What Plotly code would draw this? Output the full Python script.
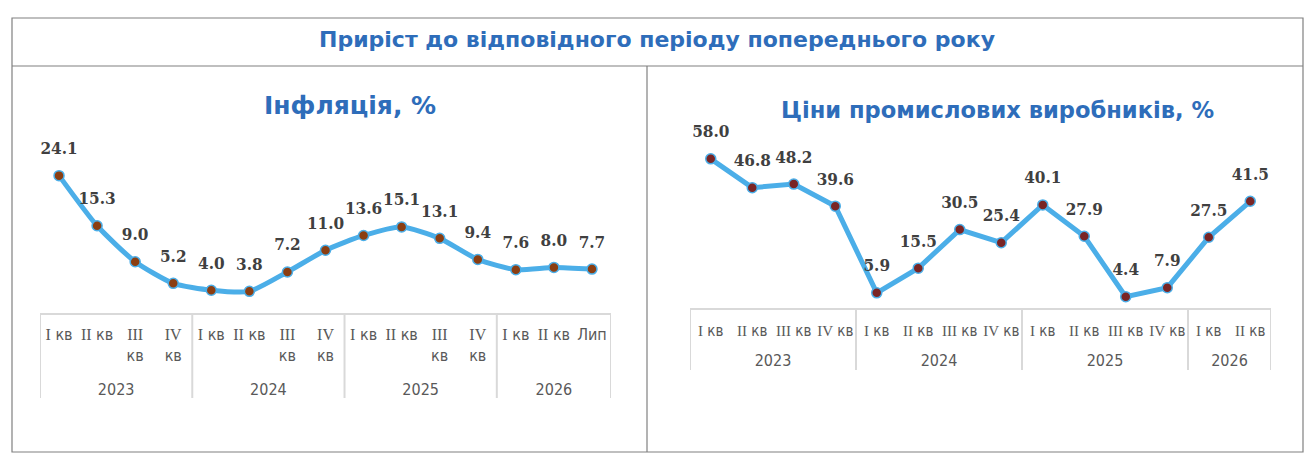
import plotly.graph_objects as go

W, H = 1314, 466

# ---- data ----
infl_years = ["2023"] * 4 + ["2024"] * 4 + ["2025"] * 4 + ["2026"] * 3
infl_quarters = ["I кв", "II кв", "III кв", "IV кв",
                 "I кв", "II кв", "III кв", "IV кв",
                 "I кв", "II кв", "III кв", "IV кв",
                 "I кв", "II кв", "Лип"]
infl_values = [24.1, 15.3, 9.0, 5.2, 4.0, 3.8, 7.2, 11.0, 13.6, 15.1, 13.1, 9.4, 7.6, 8.0, 7.7]

ppi_years = ["2023"] * 4 + ["2024"] * 4 + ["2025"] * 4 + ["2026"] * 2
ppi_quarters = ["I кв", "II кв", "III кв", "IV кв",
                "I кв", "II кв", "III кв", "IV кв",
                "I кв", "II кв", "III кв", "IV кв",
                "I кв", "II кв"]
ppi_values = [58.0, 46.8, 48.2, 39.6, 5.9, 15.5, 30.5, 25.4, 40.1, 27.9, 4.4, 7.9, 27.5, 41.5]

header_title = "Приріст до відповідного періоду попереднього року"
left_title = "Інфляція, %"
right_title = "Ціни промислових виробників, %"

# ---- styles ----
LINE = "#4BAEE8"
BLUE_T = "#2E6DBA"
FRAME = "#808080"
GRID = "#D9D9D9"
LBL = "#404040"
TICK = "#595959"
SERIF_NUM = "Liberation Serif, serif"
SANS_TICK = "DejaVu Sans Condensed, DejaVu Sans, sans-serif"


def fmt_quarter(q, wrap):
    """Roman numeral in a serif face, 'кв' in the sans face; optionally wrap III / IV."""
    parts = q.split(" ")
    if len(parts) == 2:
        num, suf = parts
        sep = "<br>" if (wrap and num in ("III", "IV")) else " "
        return f"<span style='font-family:{SERIF_NUM}'>{num}</span>{sep}{suf}"
    return q


def groups(years):
    n = len(years)
    bounds = [-0.5] + [i - 0.5 for i in range(1, n) if years[i] != years[i - 1]] + [n - 0.5]
    names, centers = [], []
    for a, b in zip(bounds[:-1], bounds[1:]):
        names.append(years[int(a + 0.5)])
        centers.append((a + b) / 2)
    return bounds, names, centers


def px(x):
    return x / W


def py(y):
    return 1 - y / H


infl_x = list(range(len(infl_values)))
ppi_x = list(range(len(ppi_values)))
infl_labels = [fmt_quarter(q, True) for q in infl_quarters]
ppi_labels = [fmt_quarter(q, False) for q in ppi_quarters]
infl_bounds, infl_gnames, infl_gcenters = groups(infl_years)
ppi_bounds, ppi_gnames, ppi_gcenters = groups(ppi_years)

fig = go.Figure()

lbl_font = dict(family="DejaVu Serif Condensed, DejaVu Serif, serif", size=17, color=LBL)

# Inflation
fig.add_trace(go.Scatter(
    x=infl_x, y=infl_values,
    mode="lines+markers", line=dict(color=LINE, width=5, shape="spline", smoothing=0.6),
    marker=dict(size=10, color="#8B3E12", line=dict(color=LINE, width=1.5)),
    cliponaxis=False, hoverinfo="skip", xaxis="x", yaxis="y", showlegend=False))
fig.add_trace(go.Scatter(
    x=infl_x, y=infl_values,
    mode="markers+text", marker=dict(size=26, opacity=0),
    texttemplate="<b>%{y:.1f}</b>", textposition="top center", textfont=lbl_font,
    cliponaxis=False, hoverinfo="skip", xaxis="x", yaxis="y", showlegend=False))
fig.add_trace(go.Scatter(
    x=infl_gcenters, y=[0] * len(infl_gcenters), mode="markers", marker=dict(opacity=0),
    hoverinfo="skip", xaxis="x3", yaxis="y", showlegend=False))

# PPI
fig.add_trace(go.Scatter(
    x=ppi_x, y=ppi_values,
    mode="lines+markers", line=dict(color=LINE, width=5),
    marker=dict(size=10, color="#7A2525", line=dict(color=LINE, width=1.5)),
    cliponaxis=False, hoverinfo="skip", xaxis="x2", yaxis="y2", showlegend=False))
fig.add_trace(go.Scatter(
    x=ppi_x, y=ppi_values,
    mode="markers+text", marker=dict(size=26, opacity=0),
    texttemplate="<b>%{y:.1f}</b>", textposition="top center", textfont=lbl_font,
    cliponaxis=False, hoverinfo="skip", xaxis="x2", yaxis="y2", showlegend=False))
fig.add_trace(go.Scatter(
    x=ppi_gcenters, y=[0] * len(ppi_gcenters), mode="markers", marker=dict(opacity=0),
    hoverinfo="skip", xaxis="x4", yaxis="y2", showlegend=False))

q_axis = dict(showline=True, linecolor=GRID, linewidth=2, tickangle=0,
              showgrid=False, zeroline=False, ticks="", fixedrange=True)
y_axis = dict(showline=False, tickangle=0, showgrid=False, zeroline=False, ticks="",
              fixedrange=True, tickfont=dict(family=SANS_TICK, size=16, color=TICK))

fig.update_layout(
    width=W, height=H, margin=dict(l=0, r=0, t=0, b=0),
    paper_bgcolor="white", plot_bgcolor="rgba(0,0,0,0)",
    xaxis=dict(domain=[px(40), px(611)], anchor="y", range=[-0.5, len(infl_x) - 0.5],
               tickvals=infl_x, ticktext=infl_labels, ticklabelstandoff=6,
               tickfont=dict(family=SANS_TICK, size=16, color=TICK), **q_axis),
    xaxis3=dict(overlaying="x", anchor="y", range=[-0.5, len(infl_x) - 0.5],
                tickvals=infl_gcenters, ticktext=infl_gnames, ticklabelstandoff=65, **y_axis),
    yaxis=dict(domain=[py(313), py(142)], range=[0, 30], visible=False, fixedrange=True, anchor="x"),
    xaxis2=dict(domain=[px(690), px(1271)], anchor="y2", range=[-0.5, len(ppi_x) - 0.5],
                tickvals=ppi_x, ticktext=ppi_labels, ticklabelstandoff=8,
                tickfont=dict(family=SANS_TICK, size=15, color=TICK), **q_axis),
    xaxis4=dict(overlaying="x2", anchor="y2", range=[-0.5, len(ppi_x) - 0.5],
                tickvals=ppi_gcenters, ticktext=ppi_gnames, ticklabelstandoff=41, **y_axis),
    yaxis2=dict(domain=[py(308), py(128)], range=[0, 70], visible=False, fixedrange=True, anchor="x2"),
)

shapes = [
    dict(type="rect", xref="paper", yref="paper", x0=px(12), x1=px(1303), y0=py(452), y1=py(18),
         line=dict(color=FRAME, width=1.2)),
    dict(type="line", xref="paper", yref="paper", x0=px(12), x1=px(1303), y0=py(66), y1=py(66),
         line=dict(color=FRAME, width=1.2)),
    dict(type="line", xref="paper", yref="paper", x0=px(647), x1=px(647), y0=py(66), y1=py(452),
         line=dict(color=FRAME, width=1.2)),
]
for b in infl_bounds:
    shapes.append(dict(type="line", xref="x", yref="paper", x0=b, x1=b, y0=py(398), y1=py(313),
                       line=dict(color=GRID, width=2)))
for b in ppi_bounds:
    shapes.append(dict(type="line", xref="x2", yref="paper", x0=b, x1=b, y0=py(370), y1=py(308),
                       line=dict(color=GRID, width=2)))
fig.update_layout(shapes=shapes)

ann_font = "DejaVu Sans, Verdana, sans-serif"
fig.add_annotation(text=f"<b>{header_title}</b>", x=px(657), y=py(40), xref="paper", yref="paper",
                   showarrow=False, font=dict(family=ann_font, size=22, color=BLUE_T),
                   xanchor="center", yanchor="middle")
fig.add_annotation(text=f"<b>{left_title}</b>", x=px(350), y=py(105), xref="paper", yref="paper",
                   showarrow=False, font=dict(family=ann_font, size=25, color=BLUE_T),
                   xanchor="center", yanchor="middle")
fig.add_annotation(text=f"<b>{right_title}</b>", x=px(997), y=py(110), xref="paper", yref="paper",
                   showarrow=False, font=dict(family=ann_font, size=22.6, color=BLUE_T),
                   xanchor="center", yanchor="middle")

fig.write_html("out.html", config={"displayModeBar": False},
               post_script="document.body.style.margin='0px';")
